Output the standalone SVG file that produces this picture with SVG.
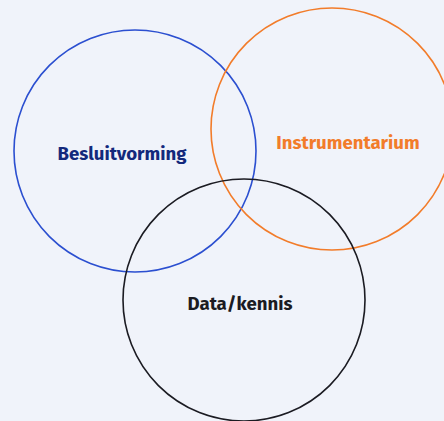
<svg xmlns="http://www.w3.org/2000/svg" width="444" height="421" viewBox="0 0 444 421">
<style>
.c{fill:none;stroke-width:1.6}
.t{font-family:"Fira Sans","Open Sans","Liberation Sans",sans-serif;font-weight:bold;font-size:18.6px;text-anchor:middle}
</style>
<rect width="444" height="421" fill="#f0f3fa"/>
<g id="connectors"/>
<g id="besluitvorming">
<circle class="c" cx="135" cy="151" r="121" stroke="#2b4fd0"/>
<text class="t" x="122" y="160" fill="#13297c">Besluitvorming</text>
</g>
<g id="instrumentarium">
<circle class="c" cx="332" cy="129" r="121" stroke="#f27c2a"/>
<text class="t" x="348" y="149" fill="#f27c2a">Instrumentarium</text>
</g>
<g id="datakennis">
<circle class="c" cx="244" cy="300" r="121" stroke="#1b1b22"/>
<text class="t" x="240" y="310" fill="#1b1b22">Data/kennis</text>
</g>
</svg>
